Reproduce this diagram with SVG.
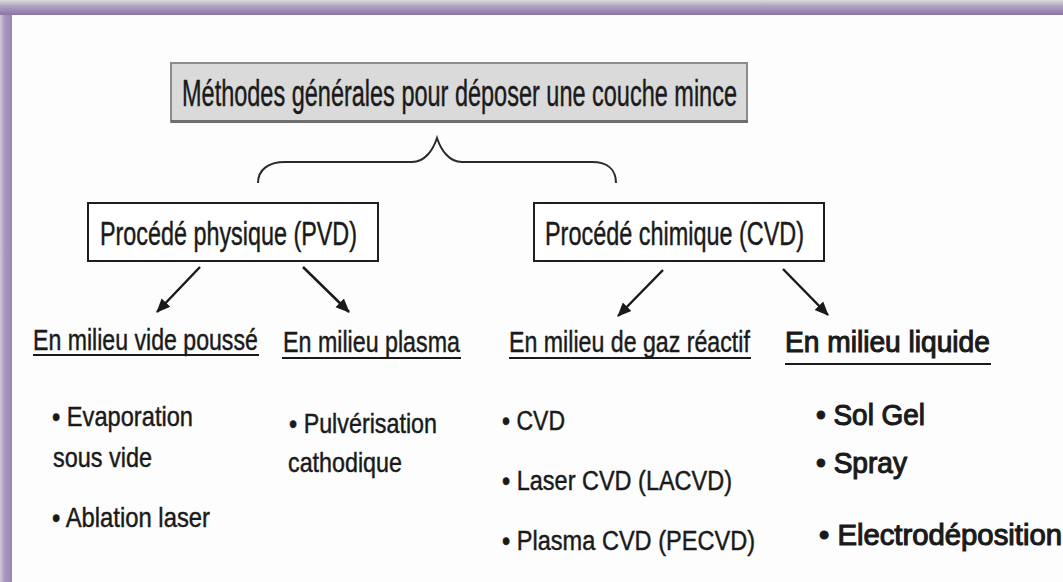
<svg xmlns="http://www.w3.org/2000/svg" width="1063" height="582" viewBox="0 0 1063 582">
<style>
  text { font-family: "Liberation Sans", Arial, sans-serif; fill: #1a1a1a; stroke: #1a1a1a; stroke-width: 0.45; }
  .ttl { font-size: 36px; }
  .box { fill: #ffffff; stroke: #1e1e1e; stroke-width: 2; }
  .boxt { font-size: 33px; }
  .head { font-size: 30px; }
  .headb { font-size: 30px; stroke-width: 1.1; }
  .ul { stroke: #1a1a1a; stroke-width: 2; }
  .it { font-size: 28px; }
  .it2 { font-size: 27px; }
  .itb { font-size: 29px; stroke-width: 1.1; }
  .arr { stroke: #1a1a1a; stroke-width: 2.5; fill: none; marker-end: url(#ah); }
  .brace { stroke: #2a2a2a; stroke-width: 2; fill: none; }
</style>
<defs>
  <linearGradient id="gTop" x1="0" y1="0" x2="0" y2="1">
    <stop offset="0" stop-color="#dcdcdc"/>
    <stop offset="0.4" stop-color="#b0a2c2"/>
    <stop offset="1" stop-color="#8b75a6"/>
  </linearGradient>
  <linearGradient id="gLeft" x1="0" y1="0" x2="1" y2="0">
    <stop offset="0" stop-color="#cfc8d8"/>
    <stop offset="0.4" stop-color="#a996bf"/>
    <stop offset="1" stop-color="#9985b3"/>
  </linearGradient>
  <marker id="ah" markerUnits="userSpaceOnUse" markerWidth="16" markerHeight="14" refX="13" refY="7" orient="auto">
    <path d="M0,1 L14,7 L0,13 Z" fill="#1a1a1a" stroke="none"/>
  </marker>
</defs>
<rect x="0" y="0" width="1063" height="582" fill="#fdfdfd"/>
<g id="frame">
  <rect x="0" y="0" width="12" height="582" fill="url(#gLeft)"/>
  <rect x="0" y="0" width="1063" height="15" fill="url(#gTop)"/>
</g>
<g id="title">
  <rect x="171" y="63" width="576" height="59" fill="#dadada" stroke="#8c8c8c" stroke-width="2"/>
  <line x1="171" y1="121.5" x2="748" y2="121.5" stroke="#6e6e6e" stroke-width="3"/>
  <text class="ttl" x="182" y="106" textLength="555" lengthAdjust="spacingAndGlyphs">Méthodes générales pour déposer une couche mince</text>
</g>
<g id="connectors">
  <path class="brace" d="M258,183 C258,170 268,162 285,162 L412,162 C425,162 433,150 437,138 C441,150 449,162 462,162 L592,162 C608,162 616,170 616,183"/>
  <line class="arr" x1="200" y1="267" x2="157" y2="312"/>
  <line class="arr" x1="303" y1="267" x2="349" y2="312"/>
  <line class="arr" x1="663" y1="270" x2="618" y2="316"/>
  <line class="arr" x1="783" y1="269" x2="828" y2="315"/>
</g>
<g id="pvd">
  <rect class="box" x="88" y="203" width="290" height="58"/>
  <text class="boxt" x="100" y="245" textLength="257" lengthAdjust="spacingAndGlyphs">Procédé physique (PVD)</text>
</g>
<g id="cvd">
  <rect class="box" x="534" y="203" width="290" height="58"/>
  <text class="boxt" x="545" y="245" textLength="259" lengthAdjust="spacingAndGlyphs">Procédé chimique (CVD)</text>
</g>
<g id="vide">
  <text class="head" transform="matrix(0.77,0,0,1,33,350)" x="0" y="0" textLength="292" lengthAdjust="spacingAndGlyphs">En milieu vide poussé</text>
  <line class="ul" x1="33" y1="355" x2="259" y2="355"/>
  <text class="it" x="52" y="426" textLength="141" lengthAdjust="spacingAndGlyphs">• Evaporation</text>
  <text class="it" x="53" y="467" textLength="99" lengthAdjust="spacingAndGlyphs">sous vide</text>
  <text class="it" x="52" y="527" textLength="158" lengthAdjust="spacingAndGlyphs">• Ablation laser</text>
</g>
<g id="plasma">
  <text class="head" transform="matrix(0.776,0,0,1,283,352)" x="0" y="0" textLength="228" lengthAdjust="spacingAndGlyphs">En milieu plasma</text>
  <line class="ul" x1="282" y1="358" x2="461" y2="358"/>
  <text class="it" x="289" y="433" textLength="148" lengthAdjust="spacingAndGlyphs">• Pulvérisation</text>
  <text class="it" x="288" y="472" textLength="114" lengthAdjust="spacingAndGlyphs">cathodique</text>
</g>
<g id="gaz">
  <text class="head" transform="matrix(0.772,0,0,1,509,352)" x="0" y="0" textLength="312" lengthAdjust="spacingAndGlyphs">En milieu de gaz réactif</text>
  <line class="ul" x1="509" y1="358" x2="751" y2="358"/>
  <text class="it2" x="502" y="430" textLength="63" lengthAdjust="spacingAndGlyphs">• CVD</text>
  <text class="it2" x="502" y="490" textLength="230" lengthAdjust="spacingAndGlyphs">• Laser CVD (LACVD)</text>
  <text class="it2" x="502" y="550" textLength="253" lengthAdjust="spacingAndGlyphs">• Plasma CVD (PECVD)</text>
</g>
<g id="liquide">
  <text class="headb" transform="matrix(0.94,0,0,1,785,352)" x="0" y="0" textLength="218" lengthAdjust="spacingAndGlyphs">En milieu liquide</text>
  <line class="ul" x1="785" y1="364" x2="991" y2="364"/>
  <text class="itb" x="816" y="425" textLength="109" lengthAdjust="spacingAndGlyphs">• Sol Gel</text>
  <text class="itb" x="816" y="473" textLength="91" lengthAdjust="spacingAndGlyphs">• Spray</text>
  <text class="itb" x="819" y="545" textLength="243" lengthAdjust="spacingAndGlyphs">• Electrodéposition</text>
</g>
</svg>
